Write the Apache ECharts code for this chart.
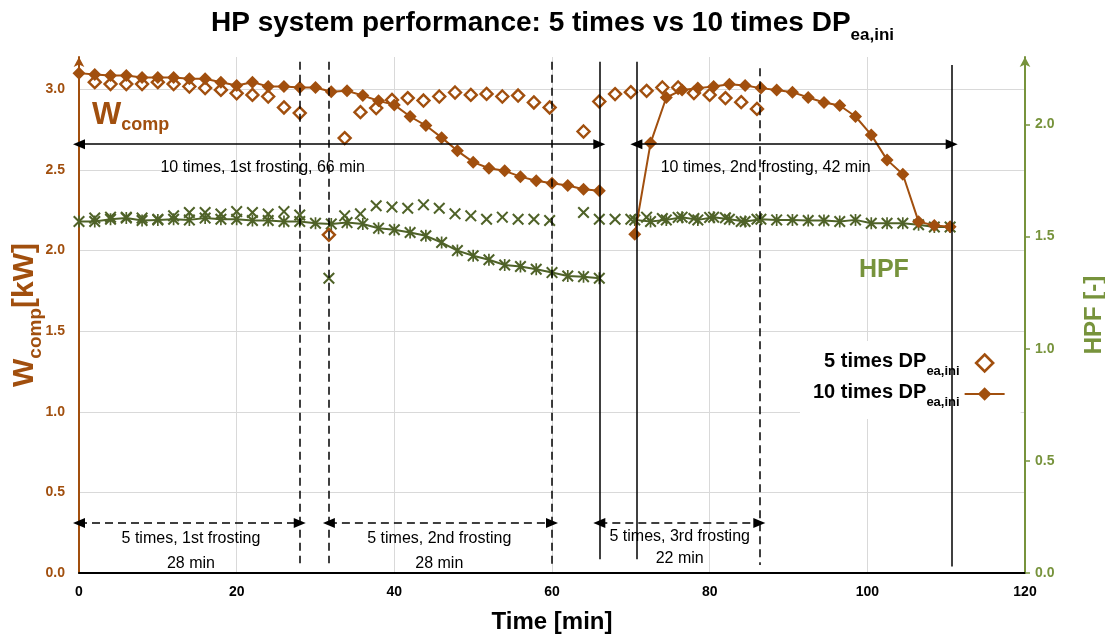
<!DOCTYPE html>
<html><head><meta charset="utf-8">
<script src="https://cdn.jsdelivr.net/npm/echarts@6/dist/echarts.min.js"></script>
<style>html,body{margin:0;padding:0;background:#fff}#c{width:1105px;height:639px}</style>
</head><body><div id="c"></div>
<script>
// ---------- data (time in min, Wcomp in kW, HPF dimensionless) ----------
const t5_p1 = [2,4,6,8,10,12,14,16,18,20,22,24,26,28];
const w5_p1 = [3.044,3.032,3.032,3.032,3.044,3.032,3.017,3.007,2.996,2.975,2.965,2.955,2.887,2.852];
const hpf5_p1 = [1.582,1.586,1.586,1.582,1.577,1.592,1.607,1.607,1.600,1.611,1.607,1.600,1.611,1.596];
const t5_p2 = [31.7,33.7,35.7,37.7,39.7,41.7,43.7,45.7,47.7,49.7,51.7,53.7,55.7,57.7,59.7];
const w5_p2 = [2.097,2.697,2.858,2.883,2.934,2.945,2.930,2.955,2.980,2.965,2.971,2.955,2.961,2.918,2.887];
const hpf5_p2 = [1.314,1.592,1.601,1.637,1.631,1.626,1.641,1.626,1.601,1.592,1.577,1.586,1.577,1.577,1.571];
const t5_p3 = [64,66,68,70,72,74,76,78,80,82,84,86];
const w5_p3 = [2.738,2.924,2.970,2.982,2.990,3.011,3.011,2.976,2.965,2.945,2.920,2.878];
const hpf5_p3 = [1.607,1.577,1.577,1.577,1.586,1.580,1.585,1.580,1.585,1.583,1.567,1.577];

const t10_p1 = [0,2,4,6,8,10,12,14,16,18,20,22,24,26,28,30,32,34,36,38,40,42,44,46,48,50,52,54,56,58,60,62,64,66];
const w10_p1 = [3.100,3.092,3.085,3.085,3.073,3.073,3.073,3.065,3.065,3.044,3.023,3.044,3.017,3.017,3.011,3.011,2.985,2.990,2.961,2.928,2.903,2.831,2.775,2.700,2.618,2.548,2.510,2.494,2.458,2.432,2.417,2.403,2.380,2.370];
const hpf10_p1 = [1.567,1.567,1.577,1.582,1.571,1.574,1.577,1.574,1.582,1.577,1.577,1.571,1.571,1.567,1.567,1.559,1.556,1.562,1.556,1.537,1.530,1.518,1.503,1.473,1.437,1.414,1.396,1.373,1.366,1.354,1.339,1.324,1.321,1.314];
const t10_p2 = [70.5,72.5,74.5,76.5,78.5,80.5,82.5,84.5,86.5,88.5,90.5,92.5,94.5,96.5,98.5,100.5,102.5,104.5,106.5,108.5,110.5];
const w10_p2 = [2.101,2.666,2.949,2.996,3.007,3.017,3.031,3.023,3.007,2.996,2.982,2.949,2.918,2.899,2.831,2.717,2.562,2.473,2.179,2.155,2.148];
const hpf10_p2 = [1.574,1.567,1.574,1.586,1.574,1.586,1.577,1.567,1.577,1.574,1.574,1.571,1.571,1.567,1.574,1.559,1.559,1.559,1.552,1.542,1.542];

const xTicks = [0,20,40,60,80,100,120];
const wTicks = [0,0.5,1,1.5,2,2.5,3];
const hpfTicks = [0,0.5,1,1.5,2];

// frosting period markers (time, Wcomp-axis extent)
const vLines = [
  {t:28,    from:3.17, to:0.06,  dashed:true},
  {t:31.7,  from:3.17, to:0.06,  dashed:true},
  {t:60,    from:3.17, to:0.045, dashed:true},
  {t:86.3,  from:3.13, to:0.05,  dashed:true},
  {t:66,    from:3.17, to:0.085, dashed:false},
  {t:70.7,  from:3.17, to:0.085, dashed:false},
  {t:110.7, from:3.15, to:0.04,  dashed:false}
];
const arrows = [
  {t0:0,    t1:66,    v:2.659, dashed:false},
  {t0:70.7, t1:110.7, v:2.659, dashed:false},
  {t0:0,    t1:28,    v:0.31,  dashed:true},
  {t0:31.7, t1:60,    v:0.31,  dashed:true},
  {t0:66,   t1:86.3,  v:0.31,  dashed:true}
];
const notes = [
  {t:23.3, v:2.512, text:'10 times, 1st frosting, 66 min', kind:'n'},
  {t:87.1, v:2.516, text:'10 times, 2nd frosting, 42 min', kind:'n'},
  {t:14.2, v:0.213, text:'5 times, 1st frosting', kind:'n'},
  {t:14.2, v:0.058, text:'28 min', kind:'n'},
  {t:45.7, v:0.213, text:'5 times, 2nd frosting', kind:'n'},
  {t:45.7, v:0.058, text:'28 min', kind:'n'},
  {t:76.2, v:0.225, text:'5 times, 3rd frosting', kind:'n'},
  {t:76.2, v:0.087, text:'22 min', kind:'n'},
  {t:1.65, v:2.82,  text:'{w|W}{c|comp}', kind:'w'},
  {t:102.1, v:1.88, text:'HPF', kind:'h'}
];

// ---------- styling ----------
const FONT = "'Liberation Sans', sans-serif";
const BROWN = '#A14F0E';
const GDARK = '#4F6228';
const GLIGHT = '#77933C';
const GRID = '#D9D9D9';
const X_SYM = 'path://M0,1.2L1.2,0L5,3.8L8.8,0L10,1.2L6.2,5L10,8.8L8.8,10L5,6.2L1.2,10L0,8.8L3.8,5Z';
const STAR_SYM = 'path://M0,1.2L1.2,0L5,3.8L8.8,0L10,1.2L6.2,5L10,8.8L8.8,10L5,6.2L1.2,10L0,8.8L3.8,5ZM4.3,0L5.7,0L5.7,10L4.3,10Z';
const DIAMOND_ICON = 'path://M5,0L10,5L5,10L0,5Z';

const pairs = (ts, vs) => ts.map((t, i) => [t, vs[i]]);
const joinGap = (...segs) => { const o = []; segs.forEach((s, i) => { if (i) o.push(['-', '-']); o.push(...s); }); return o; };

const lineMarks = [];
vLines.forEach(l => lineMarks.push([
  {coord:[l.t, l.from], symbol:'none', lineStyle:{color:'#000', width:1.5, type: l.dashed ? [8,5] : 'solid'}},
  {coord:[l.t, l.to], symbol:'none'}
]));
arrows.forEach(a => lineMarks.push([
  {coord:[a.t0, a.v], symbol:'triangle', symbolSize:[10,12], lineStyle:{color:'#000', width:1.5, type: a.dashed ? [8,5] : 'solid'}},
  {coord:[a.t1, a.v], symbol:'triangle', symbolSize:[10,12]}
]));

const noteData = notes.map(n => {
  const item = {value:[n.t, n.v], label:{formatter: n.text}};
  if (n.kind === 'w') { item.label.align = 'left'; }
  if (n.kind === 'h') { item.label.color = GLIGHT; item.label.fontSize = 25; item.label.fontWeight = 'bold'; }
  return item;
});

const chart = echarts.init(document.getElementById('c'));
chart.setOption({
  animation: false,
  backgroundColor: '#fff',
  textStyle: {fontFamily: FONT},
  title: {
    text: '{a|HP system performance: 5 times vs 10 times DP}{s|ea,ini}',
    left: 'center', top: 4,
    textStyle: {rich: {
      a: {fontFamily: FONT, fontSize: 28, fontWeight: 'bold', color: '#000', lineHeight: 34, verticalAlign: 'top'},
      s: {fontFamily: FONT, fontSize: 17, fontWeight: 'bold', color: '#000', lineHeight: 16, verticalAlign: 'top', padding: [18,0,0,0]}
    }}
  },
  grid: {left: 79, right: 80, top: 57, bottom: 66, outerBoundsMode: 'none', containLabel: false},
  legend: {
    data: [
      {name: '5 times', icon: DIAMOND_ICON, itemStyle: {color: '#fff', borderColor: BROWN, borderWidth: 2.6}},
      {name: '10 times'}
    ],
    orient: 'vertical', left: 800, top: 341, align: 'right', symbolKeepAspect: true,
    backgroundColor: '#fff', padding: [10,15,10,13], itemGap: 4,
    itemWidth: 40, itemHeight: 17,
    formatter: n => '{a|' + n + ' DP}{s|ea,ini}',
    textStyle: {width: 143, rich: {
      a: {fontFamily: FONT, fontSize: 20, fontWeight: 'bold', color: '#000', lineHeight: 24, verticalAlign: 'top'},
      s: {fontFamily: FONT, fontSize: 13, fontWeight: 'bold', color: '#000', lineHeight: 12, verticalAlign: 'top', padding: [14,0,0,0]}
    }}
  },
  xAxis: {
    type: 'value', min: 0, max: 120, interval: 20,
    name: 'Time [min]', nameLocation: 'middle', nameGap: 37,
    nameTextStyle: {fontFamily: FONT, fontSize: 24, fontWeight: 'bold', color: '#000'},
    axisLine: {lineStyle: {color: '#000', width: 2}},
    axisTick: {show: false},
    axisLabel: {fontFamily: FONT, fontSize: 14, fontWeight: 'bold', color: '#000', margin: 12, customValues: xTicks},
    splitLine: {show: true, showMinLine: false, showMaxLine: false, lineStyle: {color: GRID, width: 1}}
  },
  yAxis: [
    {
      type: 'value', min: 0, max: 3.2, interval: 0.5, position: 'left',
      name: '{m|W}{s|comp}{m|[kW]}', nameLocation: 'middle', nameGap: 35, nameMoveOverlap: false,
      nameTextStyle: {rich: {
        m: {fontFamily: FONT, fontSize: 30, fontWeight: 'bold', color: BROWN, lineHeight: 34, verticalAlign: 'top'},
        s: {fontFamily: FONT, fontSize: 19, fontWeight: 'bold', color: BROWN, lineHeight: 18, verticalAlign: 'top', padding: [16,0,0,0]}
      }},
      axisLine: {show: true, lineStyle: {color: BROWN, width: 2}, symbol: ['none', 'arrow'], symbolSize: [8, 10]},
      axisTick: {show: false},
      axisLabel: {fontFamily: FONT, fontSize: 14, fontWeight: 'bold', color: BROWN, margin: 14,
                  customValues: wTicks, formatter: v => v.toFixed(1)},
      splitLine: {show: true, showMinLine: false, showMaxLine: false, lineStyle: {color: GRID, width: 1}}
    },
    {
      type: 'value', min: 0, max: 2.3, interval: 0.5, position: 'right',
      name: 'HPF [-]', nameLocation: 'middle', nameGap: 57, nameMoveOverlap: false,
      nameTextStyle: {fontFamily: FONT, fontSize: 24, fontWeight: 'bold', color: GLIGHT},
      axisLine: {show: true, lineStyle: {color: GLIGHT, width: 2}, symbol: ['none', 'arrow'], symbolSize: [8, 10]},
      axisTick: {show: true, inside: false, length: 5, lineStyle: {color: GLIGHT, width: 1.5}, customValues: hpfTicks},
      axisLabel: {fontFamily: FONT, fontSize: 14, fontWeight: 'bold', color: GLIGHT, margin: 10,
                  customValues: hpfTicks, formatter: v => v.toFixed(1)},
      splitLine: {show: false}
    }
  ],
  series: [
    {
      name: 'hpf10', type: 'line', yAxisIndex: 1,
      data: joinGap(pairs(t10_p1, hpf10_p1), pairs(t10_p2, hpf10_p2)),
      symbol: STAR_SYM, symbolSize: 12, showSymbol: true, connectNulls: false,
      itemStyle: {color: GDARK, opacity: 1}, lineStyle: {color: GDARK, width: 2}, z: 2
    },
    {
      name: 'hpf5', type: 'scatter', yAxisIndex: 1,
      data: [...pairs(t5_p1, hpf5_p1), ...pairs(t5_p2, hpf5_p2), ...pairs(t5_p3, hpf5_p3)],
      symbol: X_SYM, symbolSize: 12, itemStyle: {color: GDARK, opacity: 1}, z: 2
    },
    {
      name: '5 times', type: 'scatter', yAxisIndex: 0,
      data: [...pairs(t5_p1, w5_p1), ...pairs(t5_p2, w5_p2), ...pairs(t5_p3, w5_p3)],
      symbol: 'diamond', symbolSize: 12,
      itemStyle: {color: '#fff', borderColor: BROWN, borderWidth: 2.4, opacity: 1}, z: 3
    },
    {
      name: '10 times', type: 'line', yAxisIndex: 0,
      data: joinGap(pairs(t10_p1, w10_p1), pairs(t10_p2, w10_p2)),
      symbol: 'diamond', symbolSize: 13, showSymbol: true, connectNulls: false,
      itemStyle: {color: BROWN, opacity: 1}, lineStyle: {color: BROWN, width: 2}, z: 3,
      markLine: {silent: true, animation: false, symbol: ['none', 'none'], label: {show: false},
                 emphasis: {disabled: true}, data: lineMarks}
    },
    {
      name: 'notes', type: 'scatter', yAxisIndex: 0, symbolSize: 0, silent: true, z: 5,
      itemStyle: {opacity: 1},
      data: noteData,
      label: {show: true, position: 'inside', fontFamily: FONT, fontSize: 16, color: '#000', opacity: 1,
        rich: {
          w: {fontFamily: FONT, fontSize: 31, fontWeight: 'bold', color: BROWN, lineHeight: 36, verticalAlign: 'top'},
          c: {fontFamily: FONT, fontSize: 18, fontWeight: 'bold', color: BROWN, lineHeight: 18, verticalAlign: 'top', padding: [16,0,0,0]}
        }}
    }
  ]
});
</script>
</body></html>
